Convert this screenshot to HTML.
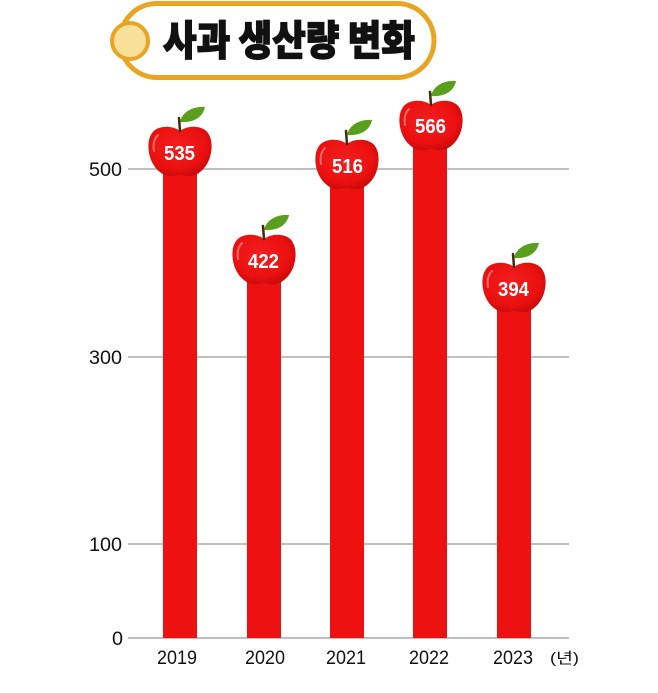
<!DOCTYPE html>
<html>
<head>
<meta charset="utf-8">
<style>
  html,body{margin:0;padding:0;background:#fff;}
  svg{display:block;}
  .yl{font-family:"Liberation Sans","Noto Sans CJK KR",sans-serif;font-size:19px;fill:#111;}
  .xl{font-family:"Liberation Sans","Noto Sans CJK KR",sans-serif;font-size:19px;fill:#111;}
  .val{font-family:"Liberation Sans",sans-serif;font-size:20px;fill:#fff;font-weight:bold;}
</style>
</head>
<body>
<svg width="658" height="693" viewBox="0 0 658 693" xmlns="http://www.w3.org/2000/svg">
  <defs>
    <radialGradient id="ag" cx="0.45" cy="0.4" r="0.65">
      <stop offset="0" stop-color="#F41E1E"/>
      <stop offset="0.7" stop-color="#EA1010"/>
      <stop offset="1" stop-color="#C40808"/>
    </radialGradient>
    <g id="apple">
      <path d="M0,4 C6,-1 18,-2 25,3 C32,8 33,20 30,30 C27,40 20,47 12,49 C6,50 3,48 0,48 C-3,48 -6,50 -12,49 C-20,47 -27,40 -30,30 C-33,20 -32,8 -25,3 C-18,-2 -6,-1 0,4 Z" fill="url(#ag)"/>
      <path d="M-22,8 C-26,12 -27,18 -26,24" stroke="#FF8080" stroke-width="2" fill="none" stroke-linecap="round" opacity="0.8"/>
      <path d="M0,4 L-1,-9" stroke="#4A2810" stroke-width="2.5" stroke-linecap="round"/>
      <path d="M0,-5 C2,-15 13,-21 25,-20 C23,-10 14,-4 0,-5 Z" fill="#5A9E1E"/>
    </g>
  </defs>

  <!-- Title pill -->
  <rect x="120" y="3.5" width="314" height="74" rx="37" ry="37" fill="#fff" stroke="#E8A524" stroke-width="5"/>
  <circle cx="130" cy="41" r="18" fill="#F9E09A" stroke="#E8A524" stroke-width="4"/>
  <text x="163" y="55" textLength="252" lengthAdjust="spacingAndGlyphs" style="font-family:'Noto Sans CJK KR','NanumGothic',sans-serif;font-weight:900;font-size:41px;fill:#111;stroke:#111;stroke-width:1.3;">사과 생산량 변화</text>

  <!-- Gridlines -->
  <g stroke="#AAAAAA" stroke-width="1.5">
    <line x1="128" y1="169" x2="569" y2="169"/>
    <line x1="128" y1="357" x2="569" y2="357"/>
    <line x1="128" y1="544" x2="569" y2="544"/>
    <line x1="128" y1="638" x2="569" y2="638"/>
  </g>

  <!-- Y labels -->
  <text class="yl" x="89" y="176" textLength="33" lengthAdjust="spacingAndGlyphs">500</text>
  <text class="yl" x="89" y="364" textLength="33" lengthAdjust="spacingAndGlyphs">300</text>
  <text class="yl" x="89" y="551" textLength="33" lengthAdjust="spacingAndGlyphs">100</text>
  <text class="yl" x="112" y="645" textLength="11" lengthAdjust="spacingAndGlyphs">0</text>

  <!-- Bars -->
  <g fill="#EE1111">
    <rect x="163" y="160" width="34" height="478"/>
    <rect x="247" y="268" width="34" height="370"/>
    <rect x="330" y="173" width="34" height="465"/>
    <rect x="413" y="134" width="34" height="504"/>
    <rect x="497" y="296" width="34" height="342"/>
  </g>

  <!-- Apples -->
  <use href="#apple" x="180" y="127"/>
  <use href="#apple" x="264" y="235"/>
  <use href="#apple" x="347" y="140"/>
  <use href="#apple" x="431" y="101"/>
  <use href="#apple" x="514" y="263"/>

  <!-- Values -->
  <text class="val" x="164" y="160" textLength="31" lengthAdjust="spacingAndGlyphs">535</text>
  <text class="val" x="248" y="268" textLength="31" lengthAdjust="spacingAndGlyphs">422</text>
  <text class="val" x="332" y="173" textLength="31" lengthAdjust="spacingAndGlyphs">516</text>
  <text class="val" x="415" y="133" textLength="31" lengthAdjust="spacingAndGlyphs">566</text>
  <text class="val" x="498" y="296" textLength="31" lengthAdjust="spacingAndGlyphs">394</text>

  <!-- X labels -->
  <text class="xl" x="157" y="664" textLength="40" lengthAdjust="spacingAndGlyphs">2019</text>
  <text class="xl" x="245" y="664" textLength="40" lengthAdjust="spacingAndGlyphs">2020</text>
  <text class="xl" x="326" y="664" textLength="40" lengthAdjust="spacingAndGlyphs">2021</text>
  <text class="xl" x="409" y="664" textLength="40" lengthAdjust="spacingAndGlyphs">2022</text>
  <text class="xl" x="493" y="664" textLength="40" lengthAdjust="spacingAndGlyphs">2023</text>
  <text x="550" y="663" textLength="29" lengthAdjust="spacingAndGlyphs" style="font-family:'Liberation Sans','Noto Sans CJK KR',sans-serif;font-size:15px;fill:#111;">(년)</text>
</svg>
</body>
</html>
